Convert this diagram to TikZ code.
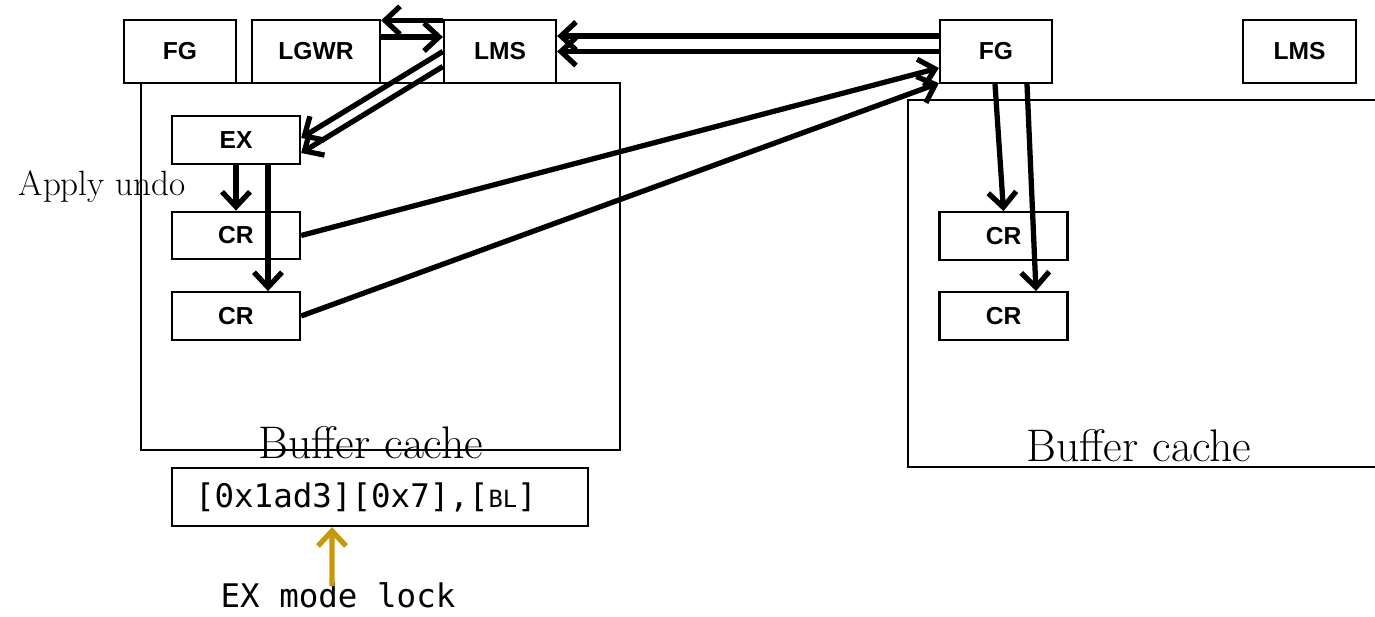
\documentclass[tikz,border=0pt]{standalone}
\usepackage{fontspec}
\usetikzlibrary{arrows.meta}
\newfontfamily\labelfont{Liberation Sans}
\newfontfamily\codefont{DejaVu Sans Mono}
\definecolor{lockgold}{RGB}{201,152,10}

\begin{document}
\begin{tikzpicture}[x=0.02cm,y=-0.02cm,>={Straight Barb[length=0.3cm,width=0.56cm]},
  proc node/.style={rectangle,draw,fill=white,line width=1.3pt,minimum width=2.24cm,minimum height=1.26cm,font=\labelfont\bfseries\fontsize{14}{14}\selectfont},
  small node/.style={proc node,minimum width=2.56cm,minimum height=0.95cm},
  cache box/.style={draw,line width=1.3pt},
  cache text/.style={anchor=base,font=\fontsize{26}{26}\selectfont},
  code text/.style={font=\codefont\fontsize{18.5}{19}\selectfont}]
  \useasboundingbox (0,0) rectangle (1375,617);

  % buffer caches
  \draw[cache box] (141,83) rectangle (620,450);
  \draw[cache box] (1375,100) -- (908,100) -- (908,467) -- (1375,467);

  % instance 1
  \node[proc node] (fg1) at (180,51.5) {FG};
  \node[proc node,minimum width=2.56cm] (lgwr) at (316,51.5) {LGWR};
  \node[proc node] (lms1) at (500,51.5) {LMS};
  \node[small node] (ex) at (236,140) {EX};
  \node[small node] (cr1) at (236,235.5) {CR};
  \node[small node] (cr2) at (236,316) {CR};

  % instance 2
  \node[proc node] (fg2) at (996,51.5) {FG};
  \node[proc node,minimum width=2.26cm] (lms2) at (1299.5,51.5) {LMS};
  \node[small node] (cr3) at (1003.5,236) {CR};
  \node[small node] (cr4) at (1003.5,316) {CR};

  \node[font=\fontsize{20}{20}\selectfont] (undo) at (102,187) {Apply undo};
  \node[cache text] (cache1) at (371,459) {Buffer cache};
  \node[cache text] (cache2) at (1139,462) {Buffer cache};

  \node[draw,line width=1.3pt,minimum width=8.32cm,minimum height=1.16cm,text width=7.4cm,align=left,code text] (addr) at (380,497)
    {[0x1ad3][0x7],[{\fontsize{13.5}{14}\selectfont BL}]};
  \node[code text,anchor=base] (lock) at (338,607) {EX mode lock};
  \coordinate (lockend) at (332,586);

\path[->,line width=3pt]
  ([yshift=-0.03cm]lms1.north west) edge ([yshift=-0.03cm]lgwr.north east)
  ([yshift=0.29cm]lgwr.east) edge ([yshift=0.29cm]lms1.west)
  (lms1.west) edge ([yshift=0.04cm]ex.east)
  ([yshift=-0.3cm]lms1.west) edge ([yshift=-0.26cm]ex.east)
  ([yshift=0.31cm]fg2.west) edge ([yshift=0.31cm]lms1.east)
  (fg2.west) edge (lms1.east)
  (cr1.east) edge ([yshift=-0.33cm]fg2.west)
  (cr2.east) edge ([yshift=0.02cm]fg2.south west)
  (ex.south) edge (cr1.north)
  ([xshift=0.64cm]ex.south) edge ([xshift=0.64cm]cr2.north)
  ([xshift=-0.02cm]fg2.south) edge (cr3.north)
  ([xshift=0.62cm]fg2.south) edge ([xshift=0.65cm]cr4.north)
;
\draw[->,lockgold,line width=3pt] (lockend) -- ([xshift=-0.96cm]addr.south);
\end{tikzpicture}
\end{document}
